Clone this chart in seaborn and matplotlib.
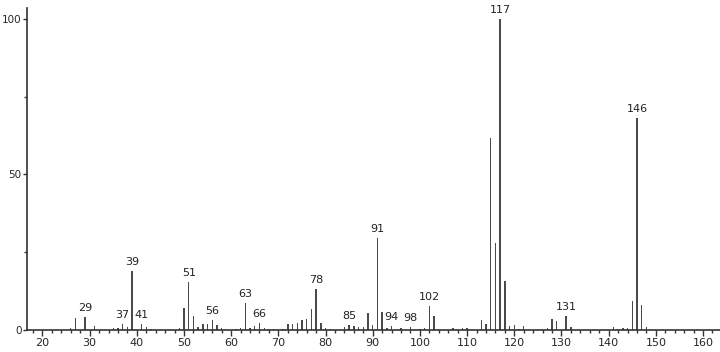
import matplotlib
matplotlib.use("Agg")
import matplotlib.pyplot as plt
import seaborn as sns
import pandas as pd
from matplotlib.ticker import MultipleLocator

mz = [26, 27, 29, 31, 35, 36, 37, 38, 39, 41, 42, 43, 49, 50, 51, 52, 53, 54, 55, 56, 57, 58,
      61, 62, 63, 64, 65, 66, 67, 68, 69, 71, 72, 73, 74, 75, 76, 77, 78, 79, 80, 81,
      84, 85, 86, 87, 88, 89, 90, 91, 92, 93, 94, 96, 98, 100, 101, 102, 103, 104,
      107, 109, 110, 113, 114, 115, 116, 117, 118, 119, 120, 121, 122,
      126, 127, 128, 129, 131, 132, 141, 142, 143, 144, 145, 146, 147, 148]
intensity = [0.6, 3.6, 4.0, 1.1, 0.4, 0.7, 1.7, 0.8, 18.8, 1.8, 1.0, 0.3, 0.5, 6.9, 15.2, 4.4, 1.0, 1.8, 1.7, 3.0, 1.4, 0.7,
             0.3, 0.5, 8.7, 0.6, 1.1, 2.2, 0.5, 0.3, 0.3, 0.3, 1.8, 1.8, 2.2, 3.0, 3.4, 6.6, 13.0, 2.3, 0.5, 0.3,
             0.8, 1.5, 1.2, 1.0, 0.75, 5.5, 1.6, 29.5, 5.7, 0.5, 1.2, 0.5, 0.8, 0.3, 0.5, 7.7, 4.4, 0.3,
             0.5, 0.4, 0.5, 3.2, 1.8, 61.7, 27.8, 100.0, 15.7, 1.2, 1.4, 0.3, 1.2,
             0.3, 0.6, 3.4, 2.7, 4.3, 1.0, 0.8, 0.3, 0.6, 0.6, 9.1, 68.0, 8.0, 1.0]
labeled_peaks = [29, 37, 39, 41, 51, 56, 63, 66, 78, 85, 91, 94, 98, 102, 117, 131, 146]

df = pd.DataFrame({"mz": mz, "intensity": intensity})

sns.set_theme(style="ticks")
plt.rcParams["font.family"] = ["DejaVu Sans"]

fig = plt.figure(figsize=(7.2, 3.52), dpi=100)
ax = fig.add_axes([0.037, 0.0634, 0.963, 0.9126])

sns.histplot(data=df, x="mz", weights="intensity", discrete=True, shrink=0.3,
             color="#4a4a4a", alpha=1, linewidth=0, ax=ax)

lookup = dict(zip(mz, intensity))
for p in labeled_peaks:
    ax.text(p, lookup[p] + 1.3, str(p), ha="center", va="bottom", fontsize=8, color="#222222")

ax.set_xlim(16.65, 163.6)
ax.set_ylim(0, 103.4)
ax.xaxis.set_major_locator(MultipleLocator(10))
ax.xaxis.set_minor_locator(MultipleLocator(2))
ax.yaxis.set_major_locator(MultipleLocator(50))
ax.yaxis.set_minor_locator(MultipleLocator(25))
ax.tick_params(axis="x", which="major", length=4, width=1, labelsize=8, pad=2, color="#333333")
ax.tick_params(axis="y", which="major", length=3, width=1, labelsize=7.5, pad=0.5, color="#333333")
ax.tick_params(axis="both", which="minor", length=2.5, width=1, color="#333333")
ax.set_xlabel("")
ax.set_ylabel("")
for s in ["top", "right"]:
    ax.spines[s].set_visible(False)
for s in ["left", "bottom"]:
    ax.spines[s].set_color("#333333")
    ax.spines[s].set_linewidth(1.2)

fig.savefig("out.png", dpi=100)
